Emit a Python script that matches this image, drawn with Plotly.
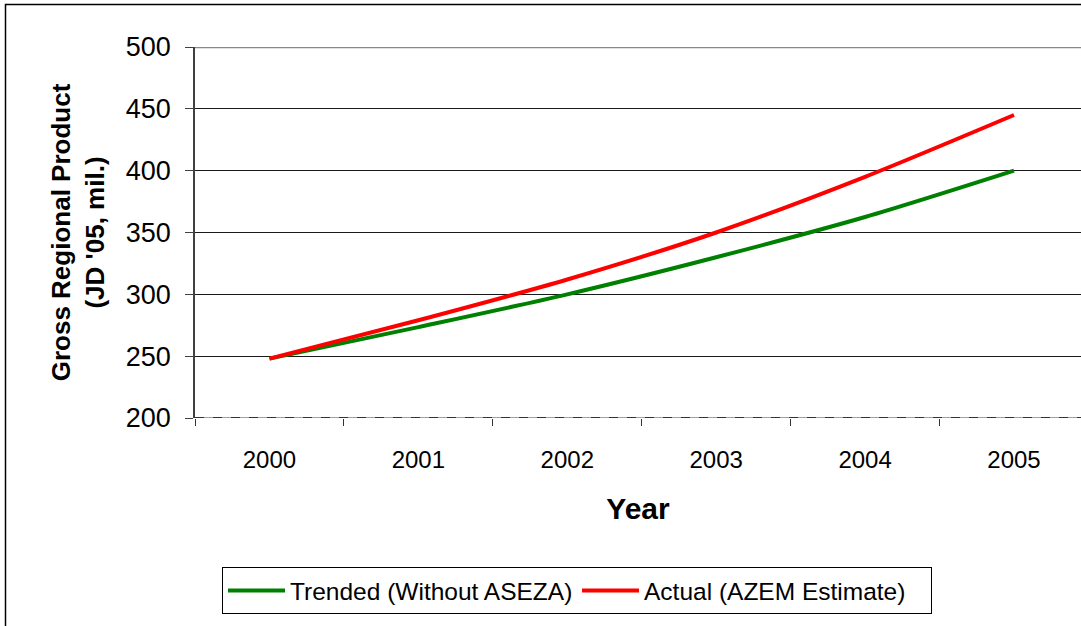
import plotly.graph_objects as go

years = ["2000", "2001", "2002", "2003", "2004", "2005"]
trended = [248, 273.5, 300, 330, 362.5, 400]
actual = [248, 279, 312, 350, 395, 445]
y_ticks = [200, 250, 300, 350, 400, 450, 500]

FONT = "Liberation Sans, Arial, sans-serif"

fig = go.Figure()
fig.add_trace(go.Scatter(x=years, y=trended, mode="lines", name="Trended (Without ASEZA)",
                         line=dict(color="#008000", width=4, shape="spline", smoothing=0.8)))
fig.add_trace(go.Scatter(x=years, y=actual, mode="lines", name="Actual (AZEM Estimate)",
                         line=dict(color="#ff0000", width=4, shape="spline", smoothing=0.8)))

W, H = 1081, 626
L, T, B = 195, 47, 418
pw = W - L
ph = B - T

def px(x):
    return (x - L) / pw

def py(y):
    return (B - y) / ph

# outer frame
fig.add_shape(type="rect", xref="paper", yref="paper", x0=px(5.5), y0=py(4.5), x1=px(1200), y1=py(700),
              line=dict(color="black", width=1.5), layer="below")
# top gridline (500)
fig.add_shape(type="line", xref="paper", yref="y", x0=0, x1=1, y0=500, y1=500,
              line=dict(color="#888888", width=2.5))
# category axis line (dashed)
fig.add_shape(type="line", xref="paper", yref="y", x0=0, x1=1, y0=200, y1=200,
              line=dict(color="#a0a0a0", width=2))
fig.add_shape(type="line", xref="paper", yref="y", x0=0, x1=1, y0=200, y1=200,
              line=dict(color="#333333", width=2, dash="dash"))

fig.update_layout(
    width=W, height=H,
    margin=dict(l=L, r=0, t=T, b=H - B, pad=0),
    paper_bgcolor="white", plot_bgcolor="white",
    font=dict(family=FONT, color="black"),
    showlegend=True,
    legend=dict(orientation="h", x=px(222), y=py(567), xanchor="left", yanchor="top",
                bordercolor="black", borderwidth=1, font=dict(size=24.5, family=FONT),
                itemwidth=57, entrywidth=282, entrywidthmode="pixels",
                tracegroupgap=0),
    xaxis=dict(type="category", categoryorder="array", categoryarray=years,
               range=[-0.5, 5.45], showgrid=False, zeroline=False, showline=False,
               ticks="outside", tickson="boundaries", ticklen=7, tickcolor="#333333", tickwidth=1,
               tickfont=dict(size=24, family=FONT, color="black"), ticklabelstandoff=25,
               title=dict(text="<b>Year</b>", font=dict(size=30, family=FONT, color="black"), standoff=25)),
    yaxis=dict(range=[200, 500], tickvals=y_ticks, showgrid=True, gridcolor="#1a1a1a", gridwidth=1,
               zeroline=False, showline=True, linecolor="#404040", linewidth=1.5,
               ticks="outside", ticklen=8, tickcolor="#404040", tickwidth=1,
               tickfont=dict(size=27, family=FONT, color="black"), ticklabelstandoff=9,
               title=dict(text="<b>Gross Regional Product<br>(JD '05, mil.)</b>",
                          font=dict(size=26, family=FONT, color="black"), standoff=14)),
)

fig.write_html("out.html", config={"displayModeBar": False},
               post_script="document.body.style.margin='0px';")
